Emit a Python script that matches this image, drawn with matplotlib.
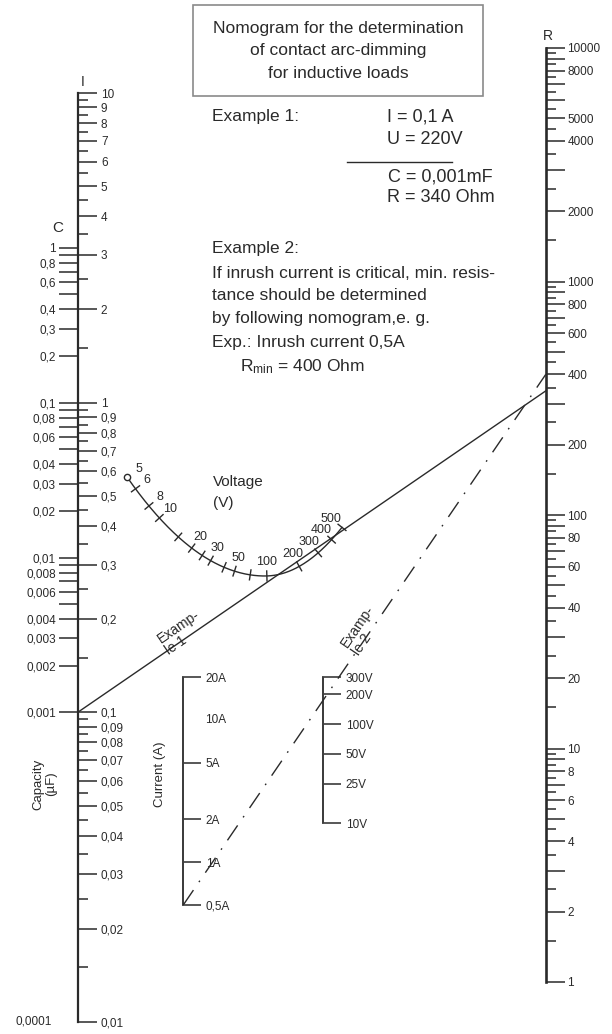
import numpy as np
import matplotlib
matplotlib.use("Agg")
import matplotlib.pyplot as plt
from matplotlib.patches import Rectangle
from matplotlib.ticker import FixedLocator, FuncFormatter, NullFormatter

W, H = 612, 1034
plt.rcParams["font.family"] = ["Liberation Sans Narrow", "Liberation Sans", "DejaVu Sans"]
INK = "#2a2a2a"

# --- scale values -------------------------------------------------------
decades = [0.01, 0.1, 1]
i_ticks = [k * d for d in decades for k in range(1, 10)] + [10]
i_minor = [k * d for d in decades for k in (1.5, 2.5, 3.5, 4.5, 5.5, 6.5, 7.5, 8.5, 9.5)]

c_ticks = [k * d for d in (0.001, 0.01, 0.1) for k in range(1, 10)] + [1]
c_labels = [1, 0.8, 0.6, 0.4, 0.3, 0.2, 0.1, 0.08, 0.06, 0.04, 0.03, 0.02,
            0.01, 0.008, 0.006, 0.004, 0.003, 0.002, 0.001]

r_ticks = [k * d for d in (1, 10, 100, 1000) for k in range(1, 10)] + [10000]
r_minor = [k * d for d in (1, 10, 100, 1000) for k in (1.5, 2.5, 3.5, 4.5, 5.5, 6.5, 7.5, 8.5, 9.5)]
r_labels = [1, 2, 4, 6, 8, 10, 20, 40, 60, 80, 100, 200, 400, 600, 800,
            1000, 2000, 4000, 5000, 8000, 10000]

cur_ticks = [0.5, 1, 2, 5, 20]
cur_free = [10]
u_ticks = [10, 25, 50, 100, 200, 300]

volt_ticks = [5, 6, 8, 10, 15, 20, 25, 30, 40, 50, 70, 100, 200, 300, 400, 500]
volt_labels = [5, 6, 8, 10, 20, 30, 50, 100, 200, 300, 400, 500]

ex1_current, ex1_res = 0.1, 340
ex2_current, ex2_volt, ex2_res = 0.5, 200, 400


def comma(v):
    return f"{v:g}".replace(".", ",")


fig = plt.figure(figsize=(W / 100, H / 100), dpi=100)
ax = fig.add_axes([0, 0, 1, 1])
ax.set_xlim(0, W)
ax.set_ylim(H, 0)
ax.axis("off")


def scale_axes(x, top, bottom, lim, side, lw):
    w = 0.5 / W
    a = fig.add_axes([x / W - (w if side == "right" else 0), 1 - bottom / H, w, (bottom - top) / H])
    a.set_yscale("log")
    a.set_ylim(*lim)
    a.patch.set_visible(False)
    a.xaxis.set_visible(False)
    for s in a.spines.values():
        s.set_visible(False)
    if lw:
        a.spines[side].set_visible(True)
        a.spines[side].set_linewidth(lw)
        a.spines[side].set_color(INK)
    if side == "right":
        a.yaxis.tick_right()
    else:
        a.yaxis.tick_left()
    return a


def set_ticks(a, major, labels, minor, fmt, long, short, size=8.5, pad=2):
    a.yaxis.set_major_locator(FixedLocator(major))
    a.yaxis.set_major_formatter(FuncFormatter(
        lambda v, p: fmt(v) if np.any(np.isclose(v, labels)) else ""))
    a.yaxis.set_minor_locator(FixedLocator(minor))
    a.yaxis.set_minor_formatter(NullFormatter())
    a.tick_params(axis="y", which="major", direction="out", length=long, width=1.1,
                  color=INK, labelcolor=INK, labelsize=size, pad=pad)
    a.tick_params(axis="y", which="minor", direction="out", length=short, width=1.1, color=INK)


def px(a, v):
    d = a.transData.transform((0.5, v))
    return ax.transData.inverted().transform(d)


# left double scale
ax_i = scale_axes(78, 93, 1022, (0.01, 10), "right", 1.6)
set_ticks(ax_i, i_ticks, i_ticks, i_minor, comma, 13.5, 7, pad=3)
ax_c = scale_axes(78, 93, 1022, (1e-5, 10), "left", 0)
set_ticks(ax_c, c_ticks, c_labels, [], comma, 14, 0, pad=2)

# right resistance scale
ax_r = scale_axes(546, 48, 982, (1, 10000), "right", 1.9)
set_ticks(ax_r, r_ticks, r_labels, r_minor, comma, 13.5, 7, pad=2)

# example 2 current and voltage scales
ax_a = scale_axes(183, 677, 905, (0.5, 20), "left", 1.3)
ax_a.yaxis.tick_right()
set_ticks(ax_a, cur_ticks, cur_ticks, [], lambda v: comma(v) + "A", 12, 0, pad=4)
for v in cur_free:
    p = px(ax_a, v)
    ax.text(p[0] + 22, p[1], comma(v) + "A", fontsize=8.5, color=INK, va="center")

ax_u = scale_axes(323, 677, 823, (10, 300), "left", 1.3)
ax_u.yaxis.tick_right()
set_ticks(ax_u, u_ticks, u_ticks, [], lambda v: comma(v) + "V", 12, 0, pad=4)

# axis letters and titles
ax.text(83, 82, "I", fontsize=10, color=INK, ha="center", va="center")
ax.text(58, 228, "C", fontsize=11, color=INK, ha="center", va="center")
ax.text(548, 36, "R", fontsize=10, color=INK, ha="center", va="center")
ax.text(52, 1022, "0,0001", fontsize=8.5, color=INK, ha="right", va="center")
ax.text(45, 784, "Capacity\n(µF)", fontsize=9.5, color=INK, rotation=90,
        ha="center", va="center", ma="center", linespacing=1.1)
ax.text(160, 774, "Current (A)", fontsize=9.5, color=INK, rotation=90, ha="center", va="center")


# voltage curve (example 1)
def volt_curve(v):
    x = 127 + 107.5 * np.log10(np.asarray(v, float) / 5)
    a = np.where(x < 265, 0.0052, 0.0082)
    y = 576 - a * (x - 265) ** 2
    slope = -2 * a * (x - 265)
    n = np.hypot(slope, 1)
    return x, y, slope / n, -1 / n


vv = np.logspace(np.log10(5), np.log10(500), 300)
cx, cy, _, _ = volt_curve(vv)
ax.plot(cx, cy, color=INK, lw=1)
x5, y5, _, _ = volt_curve([5])
ax.plot(x5, y5, "o", mfc="white", mec=INK, ms=4.5, mew=1, zorder=5)
tx, ty, nx, ny = volt_curve(volt_ticks[1:])
for x, y, a, b in zip(tx, ty, nx, ny):
    ax.plot([x - 5 * a, x + 5 * a], [y - 5 * b, y + 5 * b], color=INK, lw=1)
lx, ly, nx, ny = volt_curve(volt_labels)
for v, x, y, a, b in zip(volt_labels, lx, ly, nx, ny):
    ax.text(x + 14 * a, y + 14 * b, str(v), fontsize=9, color=INK, ha="center", va="center")
ax.text(213, 482, "Voltage", fontsize=11, color=INK, va="center")
ax.text(213, 503, "(V)", fontsize=11, color=INK, va="center")

# example lines
p0, p1 = px(ax_i, ex1_current), px(ax_r, ex1_res)
ax.plot([p0[0], p1[0]], [p0[1], p1[1]], color=INK, lw=1)
ang1 = np.degrees(np.arctan2(p0[1] - p1[1], p1[0] - p0[0]))
q = p0 + 0.23 * (p1 - p0)
ax.text(q[0] - 3, q[1] - 6, "Examp-\nle 1", fontsize=10, color=INK, rotation=ang1,
        rotation_mode="anchor", ha="center", va="center", ma="left", linespacing=1.0)

s0, s1 = px(ax_a, ex2_current), px(ax_r, ex2_res)
ax.plot([s0[0], s1[0]], [s0[1], s1[1]], color=INK, lw=1, ls=(0, (13, 7, 1.2, 7)))
ang2 = np.degrees(np.arctan2(s0[1] - s1[1], s1[0] - s0[0]))
q = s0 + 0.51 * (s1 - s0)
ax.text(q[0] - 5, q[1] - 4, "Examp-\nle 2", fontsize=10, color=INK, rotation=ang2,
        rotation_mode="anchor", ha="center", va="center", ma="left", linespacing=1.0)

# header box and example texts
ax.add_patch(Rectangle((193, 5), 290, 91, fill=False, ec="#8a8a8a", lw=1.2))
ax.text(338, 51, "Nomogram for the determination\nof contact arc-dimming\nfor inductive loads",
        fontsize=12.5, color=INK, ha="center", va="center", ma="center", linespacing=1.6)

body = dict(fontsize=12.5, color=INK, va="center")
right = dict(fontsize=13, color=INK, va="center")
ax.text(212, 117, "Example 1:", **body)
ax.text(387, 117, "I = 0,1 A", **right)
ax.text(387, 140, "U = 220V", **right)
ax.plot([347, 452], [162, 162], color=INK, lw=1)
ax.text(388, 177, "C = 0,001mF", **right)
ax.text(387, 198, "R = 340 Ohm", **right)
ax.text(212, 248, "Example 2:", **body)
ax.text(212, 273, "If inrush current is critical, min. resis-", **body)
ax.text(212, 295, "tance should be determined", **body)
ax.text(212, 318, "by following nomogram,e. g.", **body)
ax.text(212, 342, "Exp.: Inrush current 0,5A", **body)
ax.text(240, 367, r"$\mathregular{R_{min}}$ = 400 Ohm", **body)

fig.savefig("out.png", dpi=100)
